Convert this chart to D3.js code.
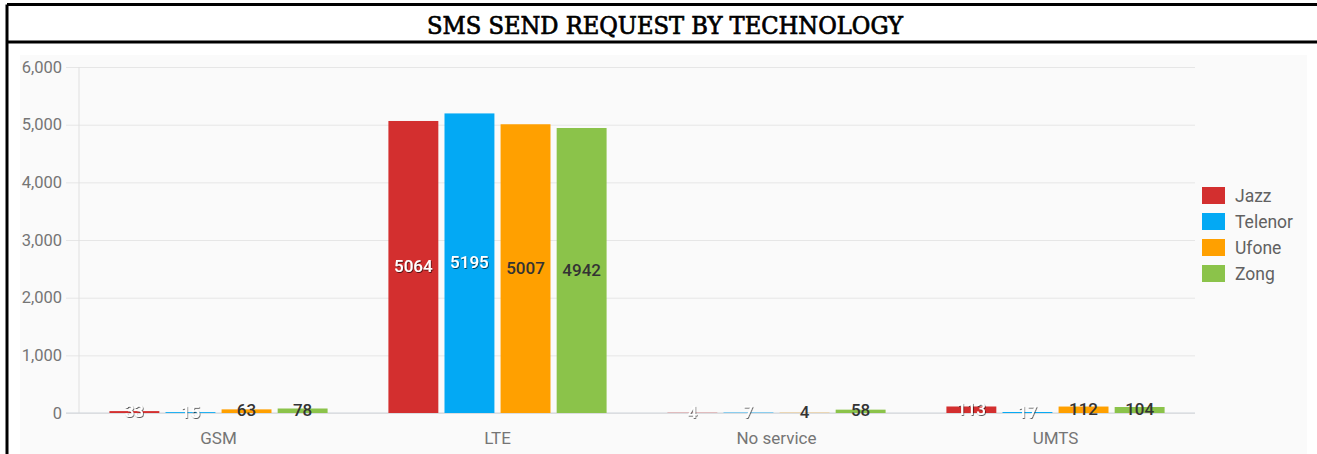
<!DOCTYPE html>
<html>
<head>
<meta charset="utf-8">
<script src="https://cdn.jsdelivr.net/npm/d3@7"></script>
<style>
  body { margin: 0; background: #fff; }
  svg { display: block; }
</style>
</head>
<body>
<div id="root"></div>
<script>
const categories = ['GSM', 'LTE', 'No service', 'UMTS']
const operators = ['Jazz', 'Telenor', 'Ufone', 'Zong']
const jazz = [33, 5064, 4, 113]
const telenor = [15, 5195, 7, 17]
const ufone = [63, 5007, 4, 112]
const zong = [78, 4942, 58, 104]
const yTicks = [0, 1000, 2000, 3000, 4000, 5000, 6000]

const seriesValues = [jazz, telenor, ufone, zong]
const colors = ['#d32f2f', '#03a9f4', '#ffa000', '#8bc34a']
const lightLabel = [true, true, false, false]

const w = 1317
const h = 454

const plot = { left: 79, right: 1195, top: 67, bottom: 413 }

const svg = d3.select('#root')
  .append('svg')
  .attr('width', w)
  .attr('height', h)

const defs = svg.append('defs')
defs.append('filter')
  .attr('id', 'shadow')
  .attr('x', '-20%').attr('y', '-20%')
  .attr('width', '140%').attr('height', '140%')
  .append('feDropShadow')
    .attr('dx', 0.7).attr('dy', 0.9)
    .attr('stdDeviation', 0.6)
    .attr('flood-color', '#000')
    .attr('flood-opacity', 0.7)

// title box
svg.append('path')
  .attr('d', 'M7,4.5 H' + w + ' M7,4.5 V' + h + ' M7,42 H' + w)
  .attr('fill', 'none')
  .attr('stroke', '#000')
  .attr('stroke-width', 3)

svg.append('text')
  .attr('x', 665)
  .attr('y', 34)
  .attr('text-anchor', 'middle')
  .attr('font-family', '"DejaVu Serif"')
  .attr('font-stretch', 'condensed')
  .attr('font-size', 25)
  .attr('textLength', 476)
  .attr('lengthAdjust', 'spacingAndGlyphs')
  .attr('fill', '#000')
  .attr('stroke', '#000')
  .attr('stroke-width', 0.7)
  .text('SMS SEND REQUEST BY TECHNOLOGY')

// chart background
svg.append('rect')
  .attr('x', 20)
  .attr('y', 55)
  .attr('width', 1287)
  .attr('height', h - 55)
  .attr('fill', '#fafafa')

const x0 = d3.scaleBand()
  .domain(categories)
  .range([plot.left, plot.right])
  .paddingInner(0.218)
  .paddingOuter(0.109)

const x1 = d3.scaleBand()
  .domain(operators)
  .range([0, x0.bandwidth()])
  .paddingInner(0.11)

const y = d3.scaleLinear()
  .domain([0, 6000])
  .range([plot.bottom, plot.top])

// grid lines
const yAxis = d3.axisLeft(y)
  .tickValues(yTicks)
  .tickFormat(d3.format(','))
  .tickSize(-(plot.right - plot.left) - 13)
  .tickPadding(4)

const gy = svg.append('g')
  .attr('transform', 'translate(' + (plot.left - 13) + ',0)')
  .call(yAxis)
gy.select('.domain').remove()
gy.selectAll('.tick line')
  .attr('stroke', '#e6e6e6')
  .attr('stroke-width', 1)
gy.selectAll('.tick text')
  .attr('fill', '#757575')
  .attr('font-family', 'Roboto')
  .attr('font-size', 16.5)

// vertical axis line
svg.append('line')
  .attr('x1', plot.left).attr('x2', plot.left)
  .attr('y1', plot.top).attr('y2', plot.bottom)
  .attr('stroke', '#e0e0e0')

// baseline
svg.append('line')
  .attr('x1', plot.left - 13).attr('x2', plot.right)
  .attr('y1', y(0)).attr('y2', y(0))
  .attr('stroke', '#cfd4da')

const xAxis = d3.axisBottom(x0).tickSize(0).tickPadding(19)
const gx = svg.append('g')
  .attr('transform', 'translate(0,' + plot.bottom + ')')
  .call(xAxis)
gx.select('.domain').remove()
gx.selectAll('.tick text')
  .attr('fill', '#757575')
  .attr('font-family', 'Roboto')
  .attr('font-size', 17)

const table = categories.map((c, i) => ({
  category: c,
  values: operators.map((o, j) => ({ op: o, idx: j, value: seriesValues[j][i] }))
}))

const groups = svg.append('g')
  .selectAll('g')
  .data(table)
  .join('g')
    .attr('transform', d => 'translate(' + x0(d.category) + ',0)')

groups.selectAll('rect')
  .data(d => d.values)
  .join('rect')
    .attr('x', d => x1(d.op))
    .attr('y', d => y(d.value))
    .attr('width', x1.bandwidth())
    .attr('height', d => y(0) - y(d.value))
    .attr('fill', d => colors[d.idx])

groups.selectAll('text')
  .data(d => d.values)
  .join('text')
    .attr('x', d => x1(d.op) + x1.bandwidth() / 2)
    .attr('y', d => (y(d.value) + y(0)) / 2)
    .attr('dy', '0.3em')
    .attr('text-anchor', 'middle')
    .attr('font-family', 'Roboto')
    .attr('font-weight', 500)
    .attr('font-size', 17)
    .attr('fill', d => lightLabel[d.idx] ? '#fff' : '#333')
    .attr('filter', d => lightLabel[d.idx] ? 'url(#shadow)' : null)
    .text(d => d.value)

// legend
const legend = svg.append('g')
  .attr('transform', 'translate(1202,187)')

const items = legend.selectAll('g')
  .data(operators)
  .join('g')
    .attr('transform', (d, i) => 'translate(0,' + i * 26 + ')')

items.append('rect')
  .attr('width', 23)
  .attr('height', 17)
  .attr('fill', (d, i) => colors[i])

items.append('text')
  .attr('x', 33)
  .attr('y', 9)
  .attr('dy', '0.35em')
  .attr('font-family', 'Roboto')
  .attr('font-size', 17.5)
  .attr('fill', '#616161')
  .text(d => d)
</script>
</body>
</html>
